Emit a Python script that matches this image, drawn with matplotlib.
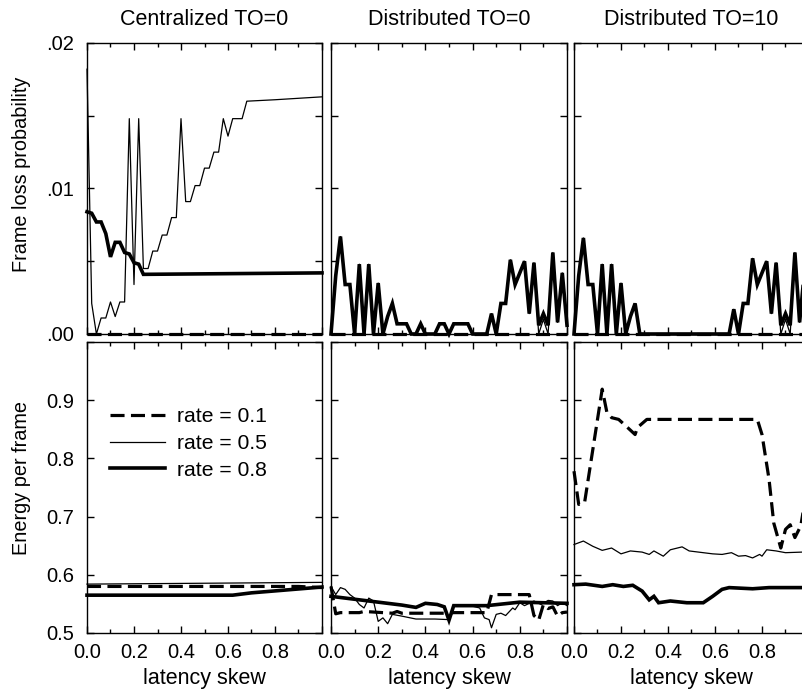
import numpy as np
import matplotlib.pyplot as plt
from matplotlib.ticker import MultipleLocator, FuncFormatter

plt.rcParams['font.family'] = ['Liberation Sans', 'DejaVu Sans']

titles = ['Centralized TO=0', 'Distributed TO=0', 'Distributed TO=10']
rate_labels = ['rate = 0.1', 'rate = 0.5', 'rate = 0.8']

# latency skew grid used by the distributed runs
skew = np.linspace(0, 1, 51)

# ---- frame loss probability (top row) ----
cen_loss_01_x = [0.0, 1.0]
cen_loss_01 = [0.0, 0.0]
cen_loss_05_x = [0.00, 0.02, 0.04, 0.06, 0.08, 0.10, 0.12, 0.14, 0.16, 0.18,
                 0.20, 0.22, 0.24, 0.26, 0.28, 0.30, 0.32, 0.34, 0.36, 0.38,
                 0.40, 0.42, 0.44, 0.46, 0.48, 0.50, 0.52, 0.54, 0.56, 0.58,
                 0.60, 0.62, 0.64, 0.66, 0.68, 0.80, 0.90, 1.00]
cen_loss_05 = [0.0182, 0.0021, 0.0, 0.0011, 0.0011, 0.0022, 0.0012, 0.0022, 0.0022, 0.0148,
               0.0034, 0.0148, 0.0045, 0.0045, 0.0057, 0.0057, 0.0068, 0.0068, 0.0080, 0.0080,
               0.0148, 0.0091, 0.0091, 0.0102, 0.0102, 0.0114, 0.0114, 0.0125, 0.0125, 0.0148,
               0.0136, 0.0148, 0.0148, 0.0148, 0.0160, 0.0161, 0.0162, 0.0163]
cen_loss_08_x = [0.00, 0.02, 0.04, 0.06, 0.08, 0.10, 0.12, 0.14, 0.16, 0.18,
                 0.20, 0.22, 0.24, 1.00]
cen_loss_08 = [0.0084, 0.0083, 0.0077, 0.0077, 0.0069, 0.0053, 0.0063, 0.0063, 0.0056, 0.0055,
               0.0049, 0.0048, 0.0041, 0.0042]

dist0_loss_01 = [0.0] * 51
dist0_loss_05 = [0, 0.0040, 0.0067, 0.0034, 0.0034, 0, 0.0048, 0, 0.0048, 0,
                 0.0035, 0, 0.0012, 0.0021, 0.0007, 0.0007, 0.0007, 0, 0, 0.0007,
                 0, 0, 0, 0.0007, 0.0007, 0, 0.0007, 0.0007, 0.0007, 0.0007,
                 0, 0, 0, 0, 0.0014, 0, 0.0021, 0.0021, 0.0051, 0.0034,
                 0.0042, 0.0050, 0.0014, 0.0049, 0.0, 0.0010, 0.0, 0.0056, 0.0008, 0.0042,
                 0.0006]
dist0_loss_08 = [0, 0.0040, 0.0067, 0.0034, 0.0034, 0, 0.0048, 0, 0.0048, 0,
                 0.0035, 0, 0.0012, 0.0021, 0.0007, 0.0007, 0.0007, 0, 0, 0.0007,
                 0, 0, 0, 0.0007, 0.0007, 0, 0.0007, 0.0007, 0.0007, 0.0007,
                 0, 0, 0, 0, 0.0014, 0, 0.0021, 0.0021, 0.0051, 0.0034,
                 0.0042, 0.0050, 0.0014, 0.0049, 0.0006, 0.0014, 0.0006, 0.0056, 0.0008, 0.0042,
                 0.0006]

dist10_loss_01 = [0.0] * 51
dist10_loss_05 = [0, 0.0040, 0.0066, 0.0034, 0.0034, 0, 0.0048, 0, 0.0048, 0,
                  0.0035, 0, 0.0012, 0.0021, 0, 0, 0, 0, 0, 0,
                  0, 0, 0, 0, 0, 0, 0, 0, 0, 0,
                  0, 0, 0, 0, 0.0017, 0, 0.0021, 0.0021, 0.0052, 0.0034,
                  0.0042, 0.0050, 0.0014, 0.0049, 0.0, 0.0010, 0.0, 0.0056, 0.0008, 0.0042,
                  0.0006]
dist10_loss_08 = [0, 0.0040, 0.0066, 0.0034, 0.0034, 0, 0.0048, 0, 0.0048, 0,
                  0.0035, 0, 0.0012, 0.0021, 0, 0, 0, 0, 0, 0,
                  0, 0, 0, 0, 0, 0, 0, 0, 0, 0,
                  0, 0, 0, 0, 0.0017, 0, 0.0021, 0.0021, 0.0052, 0.0034,
                  0.0042, 0.0050, 0.0014, 0.0049, 0.0006, 0.0014, 0.0006, 0.0056, 0.0008, 0.0042,
                  0.0006]

# ---- energy per frame (bottom row) ----
cen_energy_01_x = [0.0, 0.9, 1.0]
cen_energy_01 = [0.580, 0.580, 0.578]
cen_energy_05_x = [0.0, 1.0]
cen_energy_05 = [0.584, 0.587]
cen_energy_08_x = [0.0, 0.62, 0.70, 1.0]
cen_energy_08 = [0.565, 0.565, 0.569, 0.579]

dist0_energy_01_x = [0.00, 0.02, 0.04, 0.12, 0.14, 0.26, 0.28, 0.30, 0.50, 0.52, 0.66,
                     0.68, 0.84, 0.86, 0.88, 0.90, 0.92, 0.94, 0.96, 0.98, 1.00]
dist0_energy_01 = [0.580, 0.533, 0.535, 0.535, 0.537, 0.534, 0.537, 0.534, 0.534, 0.535, 0.535,
                   0.566, 0.566, 0.530, 0.522, 0.549, 0.542, 0.545, 0.529, 0.535, 0.536]
dist0_energy_05_x = [0.00, 0.02, 0.04, 0.06, 0.08, 0.10, 0.12, 0.14, 0.16, 0.18, 0.20,
                     0.22, 0.24, 0.26, 0.30, 0.36, 0.44, 0.50, 0.52, 0.60, 0.63, 0.65,
                     0.67, 0.68, 0.70, 0.72, 0.74, 0.77, 0.78, 0.80, 0.82, 0.86, 0.89,
                     0.92, 0.94, 0.96, 0.98, 1.00]
dist0_energy_05 = [0.580, 0.566, 0.578, 0.575, 0.566, 0.560, 0.549, 0.543, 0.560, 0.555, 0.520,
                   0.526, 0.516, 0.532, 0.529, 0.524, 0.524, 0.523, 0.547, 0.546, 0.543, 0.526,
                   0.523, 0.509, 0.532, 0.534, 0.530, 0.543, 0.540, 0.552, 0.547, 0.555, 0.549,
                   0.556, 0.555, 0.547, 0.552, 0.547]
dist0_energy_08_x = [0.00, 0.10, 0.20, 0.30, 0.36, 0.40, 0.45, 0.48, 0.50, 0.52, 0.66, 0.80, 1.00]
dist0_energy_08 = [0.563, 0.558, 0.553, 0.548, 0.544, 0.551, 0.549, 0.545, 0.522, 0.547, 0.547,
                   0.553, 0.551]

dist10_energy_01_x = [0.00, 0.02, 0.045, 0.12, 0.14, 0.16, 0.19, 0.22, 0.26, 0.27, 0.31,
                      0.78, 0.80, 0.83, 0.85, 0.88, 0.90, 0.92, 0.94, 0.965, 0.98, 1.00]
dist10_energy_01 = [0.778, 0.721, 0.724, 0.919, 0.879, 0.870, 0.867, 0.856, 0.841, 0.853, 0.867,
                    0.867, 0.841, 0.764, 0.689, 0.646, 0.678, 0.686, 0.664, 0.684, 0.720, 0.740]
dist10_energy_05_x = [0.00, 0.04, 0.08, 0.12, 0.16, 0.20, 0.24, 0.29, 0.32, 0.34, 0.38,
                      0.41, 0.46, 0.49, 0.55, 0.59, 0.63, 0.67, 0.70, 0.73, 0.76, 0.79,
                      0.80, 0.82, 0.86, 0.90, 0.97, 1.00]
dist10_energy_05 = [0.652, 0.658, 0.649, 0.642, 0.646, 0.636, 0.641, 0.639, 0.635, 0.641, 0.632,
                    0.643, 0.648, 0.641, 0.638, 0.636, 0.635, 0.638, 0.632, 0.633, 0.629, 0.635,
                    0.632, 0.643, 0.641, 0.638, 0.639, 0.637]
dist10_energy_08_x = [0.00, 0.05, 0.12, 0.165, 0.21, 0.25, 0.29, 0.32, 0.34, 0.36, 0.41,
                      0.48, 0.55, 0.59, 0.63, 0.66, 0.76, 0.83, 1.00]
dist10_energy_08 = [0.583, 0.584, 0.580, 0.583, 0.580, 0.582, 0.572, 0.557, 0.563, 0.552, 0.555,
                    0.552, 0.552, 0.563, 0.575, 0.578, 0.576, 0.578, 0.578]

loss_series = [
    [(cen_loss_01_x, cen_loss_01), (cen_loss_05_x, cen_loss_05), (cen_loss_08_x, cen_loss_08)],
    [(skew, dist0_loss_01), (skew, dist0_loss_05), (skew, dist0_loss_08)],
    [(skew, dist10_loss_01), (skew, dist10_loss_05), (skew, dist10_loss_08)],
]
energy_series = [
    [(cen_energy_01_x, cen_energy_01), (cen_energy_05_x, cen_energy_05), (cen_energy_08_x, cen_energy_08)],
    [(dist0_energy_01_x, dist0_energy_01), (dist0_energy_05_x, dist0_energy_05), (dist0_energy_08_x, dist0_energy_08)],
    [(dist10_energy_01_x, dist10_energy_01), (dist10_energy_05_x, dist10_energy_05), (dist10_energy_08_x, dist10_energy_08)],
]

styles = [
    dict(color='black', lw=2.3, dashes=(4.4, 2.0)),
    dict(color='black', lw=0.9),
    dict(color='black', lw=2.6, solid_joinstyle='miter'),
]

W, H = 803, 696
fig = plt.figure(figsize=(W / 100, H / 100), dpi=100)


def px_axes(x0, y0, w, h):
    return fig.add_axes([x0 / W, 1 - (y0 + h) / H, w / W, h / H])


col_x = [87, 331, 574]
col_w = [235, 236, 235]


def style_axes(ax, show_y):
    for s in ax.spines.values():
        s.set_linewidth(1.0)
    ax.set_xlim(0, 1)
    ax.xaxis.set_major_locator(MultipleLocator(0.2))
    ax.xaxis.set_minor_locator(MultipleLocator(0.1))
    ax.tick_params(which='both', direction='in', top=True, right=True, width=1.0)
    ax.tick_params(which='major', length=5, labelsize=14.5)
    ax.tick_params(which='minor', length=3)
    ax.tick_params(axis='x', pad=7.5)
    ax.tick_params(axis='y', pad=9, labelleft=show_y)


for i in range(3):
    ax = px_axes(col_x[i], 43, col_w[i], 291)
    for (x, y), st in zip(loss_series[i], styles):
        ax.plot(x, y, clip_on=False, **st)
    style_axes(ax, i == 0)
    ax.set_ylim(0, 0.02)
    ax.yaxis.set_major_locator(MultipleLocator(0.01))
    ax.yaxis.set_minor_locator(MultipleLocator(0.005))
    ax.tick_params(axis='y', which='minor', length=5)
    ax.yaxis.set_major_formatter(FuncFormatter(lambda v, p: f'{v:.2f}'[1:]))
    ax.tick_params(axis='x', labelbottom=False)
    ax.set_title(titles[i], fontsize=15.5, pad=13)

    ax = px_axes(col_x[i], 342, col_w[i], 291)
    for (x, y), st, lab in zip(energy_series[i], styles, rate_labels):
        ax.plot(x, y, clip_on=False, label=lab, **st)
    style_axes(ax, i == 0)
    ax.set_ylim(0.5, 1.0)
    ax.yaxis.set_major_locator(MultipleLocator(0.1))
    ax.yaxis.set_major_formatter(FuncFormatter(lambda v, p: '' if v > 0.95 else f'{v:.1f}'))
    ax.xaxis.set_major_formatter(FuncFormatter(lambda v, p: '' if v > 0.95 else f'{v:.1f}'))
    ax.set_xlabel('latency skew', fontsize=15.5, labelpad=4)
    if i == 0:
        ax.legend(loc='upper left', bbox_to_anchor=(0.1, 0.775), frameon=False,
                  fontsize=15.2, handlelength=2.6, handletextpad=0.55,
                  labelspacing=0.36, borderpad=0, borderaxespad=0)

fig.text(22 / W, 1 - 174 / H, 'Frame loss probability', rotation=90,
         ha='center', va='center', fontsize=14.3)
fig.text(22 / W, 1 - 478 / H, 'Energy per frame', rotation=90,
         ha='center', va='center', fontsize=14.3)

fig.savefig('out.png', dpi=100)
